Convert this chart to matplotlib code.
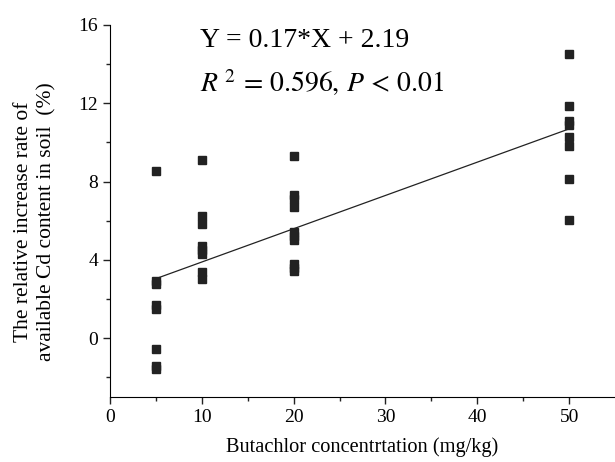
import matplotlib.pyplot as plt
import numpy as np

plt.rcParams['font.family'] = 'Liberation Serif'
plt.rcParams['mathtext.fontset'] = 'stix'

# measured points per concentration
x5 = [8.55, 2.9, 2.75, 1.7, 1.5, -0.55, -1.4, -1.6]
x10 = [9.1, 6.25, 5.85, 4.7, 4.5, 4.3, 3.4, 3.0]
x20 = [9.3, 7.3, 7.1, 6.7, 5.4, 5.2, 5.0, 3.8, 3.6, 3.45]
x50 = [14.5, 11.85, 11.1, 10.9, 10.25, 9.8, 8.15, 6.05]
groups = {5: x5, 10: x10, 20: x20, 50: x50}

slope = 0.17
intercept = 2.19
fit_x = [5, 50]

fig = plt.figure(figsize=(6.15, 4.62), dpi=100)
ax = fig.add_axes([0.179, 0.141, 0.821, 0.805])

for conc, vals in groups.items():
    ax.plot([conc] * len(vals), vals, 's', color='#222222', markersize=5.5)

fx = np.array(fit_x)
ax.plot(fx, slope * fx + intercept, color='#222222', linewidth=0.9)

ax.set_xlim(0, 55)
ax.set_ylim(-3, 16)
ax.set_xticks([0, 10, 20, 30, 40, 50])
ax.set_xticks([5, 15, 25, 35, 45], minor=True)
ax.set_yticks([0, 4, 8, 12, 16])
ax.set_yticks([-2, 2, 6, 10, 14], minor=True)
ax.spines['top'].set_visible(False)
ax.spines['right'].set_visible(False)
ax.tick_params(which='major', length=5, width=1, labelsize=14, color='#222222')
ax.tick_params(which='minor', length=3, width=1, color='#222222')

ax.set_xlabel("Butachlor concentrtation (mg/kg)", fontsize=14.7, labelpad=8)
ax.set_ylabel("The relative increase rate of\navailable Cd content in soil  (%)",
              fontsize=15.5, linespacing=1.3)
ax.yaxis.set_label_coords(-0.107, 0.47)

ax.text(9.8, 15.2, "Y = 0.17*X + 2.19", fontsize=20, va='center', ha='left')
ax.text(9.8, 13.05, r"$R^{\ 2}\,=\,0.596,\,P\,<\,0.01$", fontsize=20,
        va='center', ha='left')

fig.savefig("out.png", dpi=100)
